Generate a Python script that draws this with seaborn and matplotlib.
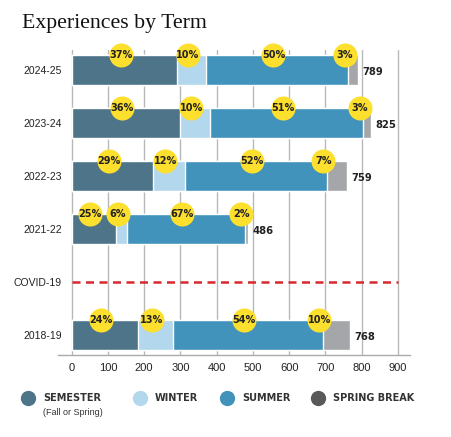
import matplotlib
matplotlib.use("Agg")
import matplotlib.pyplot as plt
from matplotlib.lines import Line2D
import pandas as pd
import seaborn as sns

# rows from top to bottom, COVID-19 is an empty separator row
order = ["2024-25", "2023-24", "2022-23", "2021-22", "COVID-19", "2018-19"]
years = ["2024-25", "2023-24", "2022-23", "2021-22", "2018-19"]

semester = [290, 299, 224, 122, 182]
winter = [80, 83, 88, 30, 97]
summer = [393, 422, 392, 326, 414]
spring_break = [26, 21, 55, 8, 75]

semester_pct = [37, 36, 29, 25, 24]
winter_pct = [10, 10, 12, 6, 13]
summer_pct = [50, 51, 52, 67, 54]
spring_pct = [3, 3, 7, 2, 10]

series = ["SEMESTER", "WINTER", "SUMMER", "SPRING BREAK"]
colors = ["#4D7489", "#B3D7EC", "#4193BC", "#A5A6A9"]
legend_colors = ["#4D7489", "#B3D7EC", "#4193BC", "#58595B"]
yellow = "#FDDF2E"

sns.set_style("white")
plt.rcParams["font.family"] = ["DejaVu Sans"]

df = pd.DataFrame({
    "term": years,
    "semester": semester,
    "winter": winter,
    "summer": summer,
    "spring": spring_break,
})
df["c1"] = df["semester"]
df["c2"] = df["c1"] + df["winter"]
df["c3"] = df["c2"] + df["summer"]
df["total"] = df["c3"] + df["spring"]

fig = plt.figure(figsize=(4.52, 4.37), dpi=100)
ax = fig.add_axes([0.128, 0.188, 0.779, 0.698])

bar_w = 0.56
# stacked bars: draw the cumulative sums from largest to smallest
for col, c in zip(["total", "c3", "c2", "c1"], colors[::-1]):
    sns.barplot(data=df, x=col, y="term", order=order, color=c,
                width=bar_w, saturation=1, orient="h", errorbar=None, ax=ax)

# percent bubbles on the top edge of each bar
pct_sets = [semester_pct, winter_pct, summer_pct, spring_pct]
for _, r in df.iterrows():
    i = order.index(r["term"])
    k = years.index(r["term"])
    ytop = i - bar_w / 2
    xs = [r["c1"] / 2 - 10,
          r["c1"] + r["winter"] / 2 - 10,
          r["c2"] + r["summer"] / 2 - 10,
          r["c3"] - 10]
    for x, p in zip(xs, pct_sets):
        ax.scatter(x, ytop, s=300, color=yellow, zorder=5, clip_on=False,
                   linewidths=0)
        ax.text(x, ytop, f"{p[k]}%", ha="center", va="center", fontsize=7,
                fontweight="bold", color="#222222", zorder=6)
    ax.text(r["total"] + 12, i + 0.04, f"{r['total']}", ha="left",
            va="center", fontsize=7.2, fontweight="bold", color="#222222")

# COVID-19 separator
ax.hlines(order.index("COVID-19"), 0, 900, colors="#D7282F", lw=1.8,
          linestyles=(0, (3.2, 2.2)), zorder=4)

ax.set_xlim(-38, 933)
ax.set_ylim(5.38, -0.38)
ax.set_xticks(range(0, 1000, 100))
ax.grid(axis="x", color="#B8B8B8", lw=1)
ax.grid(axis="y", visible=False)
ax.set_axisbelow(True)
ax.set_xlabel("")
ax.set_ylabel("")
for s in ["top", "right", "left"]:
    ax.spines[s].set_visible(False)
ax.spines["bottom"].set_color("#AAAAAA")
ax.spines["bottom"].set_linewidth(1)
ax.tick_params(axis="x", length=0, pad=6, labelcolor="#222222")
ax.tick_params(axis="y", length=0, pad=-3, labelcolor="#222222")
for lab in ax.get_xticklabels():
    lab.set_family("Liberation Sans")
    lab.set_fontsize(8)
for lab in ax.get_yticklabels():
    lab.set_family("Liberation Sans")
    lab.set_fontsize(7.5)

fig.text(0.049, 0.936, "Experiences by Term", fontsize=15.7,
         family=["Liberation Serif", "DejaVu Serif"], color="#111111",
         va="baseline", ha="left")

# legend laid out by hand so the columns line up with the reference
leg_y = 0.089
dot_x = [0.062, 0.310, 0.502, 0.704]
for name, c, x in zip(series, legend_colors, dot_x):
    fig.add_artist(Line2D([x], [leg_y], marker="o", ls="", markersize=11,
                          markerfacecolor=c, markeredgewidth=0,
                          transform=fig.transFigure))
    fig.text(x + 0.033, leg_y, name, fontsize=7, fontweight="bold",
             color="#333333", va="center", ha="left")
fig.text(0.095, 0.057, "(Fall or Spring)", fontsize=6.5,
         family="Liberation Sans", color="#333333", va="center", ha="left")

fig.savefig("out.png", dpi=100)
